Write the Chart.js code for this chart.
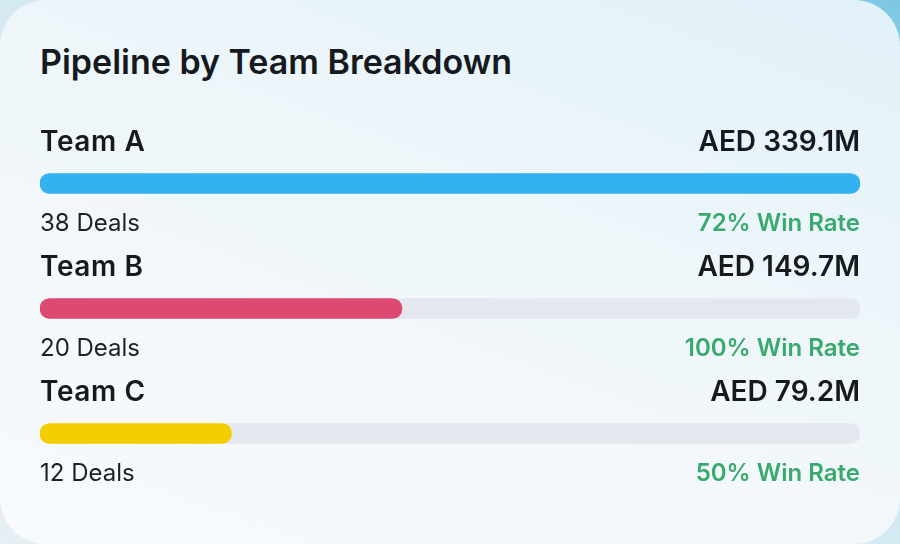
<!DOCTYPE html>
<html lang="en">
<head>
  <meta charset="UTF-8">
  <title>Pipeline by Team Breakdown</title>
  <script src="https://cdn.jsdelivr.net/npm/chart.js"></script>
  <style>
    html, body {
      margin: 0;
      padding: 0;
    }
    body {
      width: 900px;
      height: 544px;
      overflow: hidden;
      font-family: Inter, "Noto Sans", sans-serif;
      background: linear-gradient(to bottom left, #7cc7e3 0%, #cfe8f2 35%, #e6eff4 100%);
    }
    .card {
      position: relative;
      width: 900px;
      height: 544px;
      border-radius: 46px;
      background: linear-gradient(200deg, #e1f1f8 0%, #eef6fa 40%, #f8fafc 100%);
    }
    h1 {
      position: absolute;
      left: 40px;
      top: 45px;
      margin: 0;
      font-size: 34px;
      line-height: 34px;
      font-weight: 600;
      color: #16191d;
    }
    .chart-box {
      position: absolute;
      left: 40px;
      top: 121px;
      width: 820px;
      height: 375px;
    }
    .row {
      position: absolute;
      left: 40px;
      width: 820px;
      display: flex;
      justify-content: space-between;
      white-space: nowrap;
    }
    .row.head {
      font-size: 28px;
      height: 28px;
      line-height: 28px;
      font-weight: 600;
      color: #16191d;
    }
    .row.head span:first-child {
      letter-spacing: 0.6px;
    }
    .row.foot {
      font-size: 24px;
      height: 24px;
      line-height: 24px;
      font-weight: 400;
      color: #1d2126;
    }
    .win {
      color: #3aa96d;
      font-weight: 600;
    }
  </style>
</head>
<body>
  <div class="card" id="card">
    <h1>Pipeline by Team Breakdown</h1>
    <div class="chart-box">
      <canvas id="myChart"></canvas>
    </div>
  </div>

  <script>
    const teams = ['Team A', 'Team B', 'Team C'];
    const pipeline = [339.1, 149.7, 79.2];   // AED millions
    const deals = [38, 20, 12];
    const winRates = [72, 100, 50];
    const barColors = ['#33b2f0', '#dc4a72', '#f4cf00'];

    const maxPipeline = Math.max(...pipeline);

    // put the text rows above/below each bar, using the chart's own y scale
    const labelPlugin = {
      id: 'teamLabels',
      afterRender(chart) {
        if (chart._labelsDone) return;
        chart._labelsDone = true;
        const card = document.getElementById('card');
        const offsetTop = chart.canvas.parentNode.offsetTop;
        teams.forEach((team, i) => {
          const center = offsetTop + chart.scales.y.getPixelForValue(i);

          const head = document.createElement('div');
          head.className = 'row head';
          head.style.top = (center - 43 - 14) + 'px';
          head.innerHTML = `<span>${team}</span><span>AED ${pipeline[i].toFixed(1)}M</span>`;
          card.appendChild(head);

          const foot = document.createElement('div');
          foot.className = 'row foot';
          foot.style.top = (center + 39.5 - 12) + 'px';
          foot.innerHTML = `<span>${deals[i]} Deals</span><span class="win">${winRates[i]}% Win Rate</span>`;
          card.appendChild(foot);
        });
      }
    };

    new Chart(document.getElementById('myChart'), {
      type: 'bar',
      data: {
        labels: teams,
        datasets: [
          {
            label: 'Pipeline',
            data: pipeline,
            backgroundColor: barColors,
            borderRadius: 10,
            borderSkipped: false,
            barThickness: 20,
            grouped: false,
            order: 0
          },
          {
            label: 'Track',
            data: teams.map(() => maxPipeline),
            backgroundColor: '#e3e7ee',
            borderRadius: 10,
            borderSkipped: false,
            barThickness: 20,
            grouped: false,
            order: 1
          }
        ]
      },
      options: {
        indexAxis: 'y',
        responsive: true,
        maintainAspectRatio: false,
        animation: false,
        layout: { padding: 0 },
        plugins: {
          legend: { display: false },
          tooltip: { enabled: false },
          title: { display: false }
        },
        scales: {
          x: { display: false, min: 0, max: maxPipeline },
          y: { display: false }
        }
      },
      plugins: [labelPlugin]
    });
  </script>
</body>
</html>
